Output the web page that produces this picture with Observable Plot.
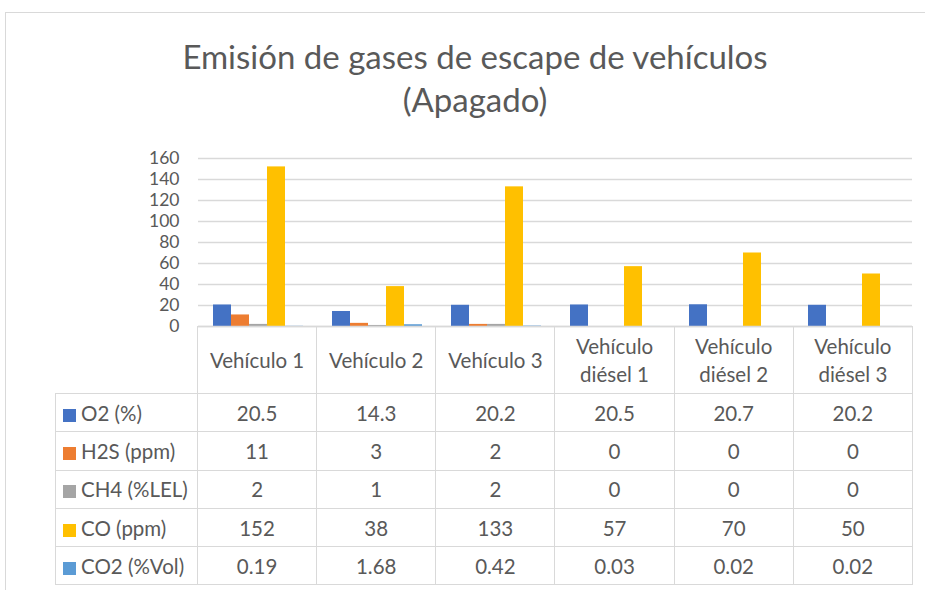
<!DOCTYPE html>
<html>
<head>
<meta charset="utf-8">
<script src="https://cdn.jsdelivr.net/npm/d3@7"></script>
<script src="https://cdn.jsdelivr.net/npm/@observablehq/plot@0.6"></script>
<style>
  html, body { margin: 0; padding: 0; background: #ffffff; }
  #wrap { position: relative; width: 925px; height: 590px; overflow: hidden; font-family: Lato, "Open Sans", sans-serif; color: #595959; }
  #frame { position: absolute; left: 5px; top: 12px; width: 940px; height: 600px; border: 1.5px solid #d9d9d9; box-sizing: border-box; }
  #title { position: absolute; left: 0; top: 35px; width: 950px; text-align: center; font-size: 33px; line-height: 43px; color: #595959; }
  #chart { position: absolute; left: 0; top: 140px; }
  #table { position: absolute; left: 55px; top: 326px; border-collapse: collapse; table-layout: fixed; font-size: 20.5px; color: #595959; }
  #table td { border: 1.5px solid #d9d9d9; text-align: center; padding: 0; box-sizing: border-box; }
  #table tr.head td { height: 67px; line-height: 28px; }
  #table tr.row td { height: 38.3px; }
  #table td.corner { border-top: none; border-left: none; }
  #table td.lab { text-align: left; white-space: nowrap; }
  .sw { display: inline-block; width: 13px; height: 13px; margin-left: 7px; margin-right: 5px; vertical-align: -1px; }
</style>
</head>
<body>
<div id="wrap">
  <div id="frame"></div>
  <div id="title">Emisión de gases de escape de vehículos<br>(Apagado)</div>
  <div id="chart"></div>
  <table id="table"></table>
</div>
<script>
const categories = ["Vehículo 1", "Vehículo 2", "Vehículo 3", "Vehículo diésel 1", "Vehículo diésel 2", "Vehículo diésel 3"];
const series = ["O2 (%)", "H2S (ppm)", "CH4 (%LEL)", "CO (ppm)", "CO2 (%Vol)"];
const o2 = [20.5, 14.3, 20.2, 20.5, 20.7, 20.2];
const h2s = [11, 3, 2, 0, 0, 0];
const ch4 = [2, 1, 2, 0, 0, 0];
const co = [152, 38, 133, 57, 70, 50];
const co2 = [0.19, 1.68, 0.42, 0.03, 0.02, 0.02];
const seriesColors = ["#4472C4", "#ED7D31", "#A5A5A5", "#FFC000", "#5B9BD5"];
const yTicks = [0, 20, 40, 60, 80, 100, 120, 140, 160];

const values = [o2, h2s, ch4, co, co2];
const rows = [];
series.forEach((s, i) => categories.forEach((c, j) => rows.push({cat: c, ser: s, value: values[i][j]})));

const chart = Plot.plot({
  width: 925,
  height: 190,
  marginLeft: 197,
  marginRight: 13,
  marginTop: 18,
  marginBottom: 4,
  fx: {domain: categories, padding: 0, axis: null, label: null},
  x: {domain: series, paddingInner: 0, paddingOuter: 0.716, axis: null, label: null},
  y: {domain: [0, 160], label: null, axis: null},
  color: {domain: series, range: seriesColors},
  style: {fontFamily: "Lato, 'Open Sans', sans-serif", fontSize: "17.5px", color: "#595959", background: "transparent", overflow: "visible"},
  marks: [
    Plot.gridY(yTicks, {stroke: "#d9d9d9", strokeOpacity: 1, strokeWidth: 1.5}),
    Plot.axisY(yTicks, {anchor: "left", facetAnchor: "left", tickSize: 0, tickPadding: 19, fontSize: 17.5, fill: "#595959", label: null}),
    Plot.barY(rows, {fx: "cat", x: "ser", y: "value", fill: "ser"}),
    Plot.ruleY([0], {stroke: "#d9d9d9", strokeWidth: 1.5})
  ]
});
document.getElementById("chart").appendChild(chart);

// data table (x labels + legend)
const table = document.getElementById("table");
const colW = (925 - 197 - 13) / categories.length;
let html = '<colgroup><col style="width:142px">' + categories.map(() => `<col style="width:${colW}px">`).join("") + '</colgroup>';
html += '<tr class="head"><td class="corner"></td>' + categories.map(c => `<td>${c.replace("Vehículo diésel", "Vehículo<br>diésel")}</td>`).join("") + '</tr>';
series.forEach((s, i) => {
  html += `<tr class="row"><td class="lab"><span class="sw" style="background:${seriesColors[i]}"></span>${s}</td>` +
    values[i].map(v => `<td>${v}</td>`).join("") + '</tr>';
});
table.innerHTML = html;
table.style.width = (142 + colW * categories.length) + "px";
</script>
</body>
</html>
